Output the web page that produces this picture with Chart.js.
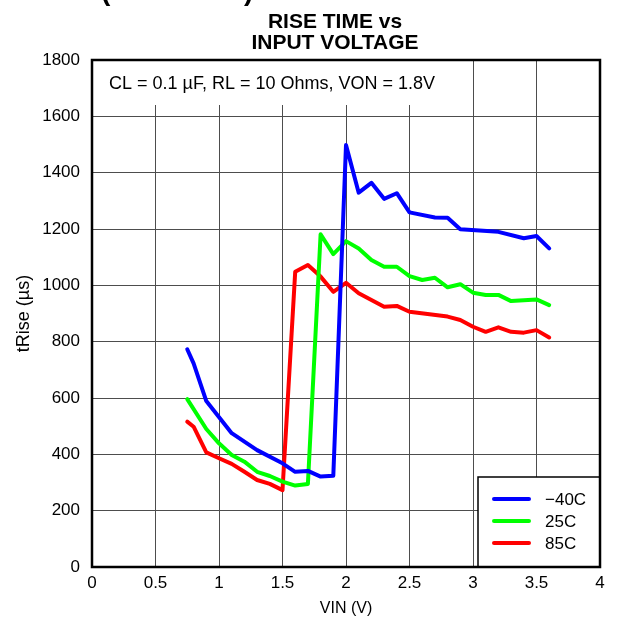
<!DOCTYPE html>
<html>
<head>
<meta charset="utf-8">
<script src="https://cdn.jsdelivr.net/npm/chart.js@4.4.1/dist/chart.umd.min.js"></script>
<style>
  html, body { margin: 0; padding: 0; background: #fff; }
  canvas { display: block; }
</style>
</head>
<body>
<canvas id="chart" width="621" height="622"></canvas>
<script>
// values
const vinBlue = [0.75, 0.8, 0.9, 1.1, 1.3, 1.5, 1.6, 1.7, 1.8, 1.9, 2.0, 2.1, 2.2, 2.3, 2.4, 2.5, 2.7, 2.8, 2.9, 3.2, 3.4, 3.5, 3.6];
const riseBlue = [773, 723, 589, 475, 415, 368, 338, 341, 321, 324, 1498, 1329, 1364, 1307, 1327, 1259, 1241, 1240, 1199, 1190, 1167, 1175, 1131];

const vinGreen = [0.75, 0.9, 1.0, 1.1, 1.2, 1.3, 1.4, 1.5, 1.6, 1.7, 1.8, 1.9, 2.0, 2.1, 2.2, 2.3, 2.4, 2.5, 2.6, 2.7, 2.8, 2.9, 3.0, 3.1, 3.2, 3.3, 3.5, 3.6];
const riseGreen = [596, 490, 439, 398, 374, 338, 323, 303, 289, 295, 1181, 1111, 1157, 1131, 1090, 1066, 1066, 1033, 1019, 1027, 993, 1004, 974, 966, 966, 944, 950, 930];

const vinRed = [0.75, 0.8, 0.9, 1.0, 1.1, 1.2, 1.3, 1.4, 1.5, 1.6, 1.7, 1.8, 1.9, 2.0, 2.1, 2.2, 2.3, 2.4, 2.5, 2.8, 2.9, 3.0, 3.1, 3.2, 3.3, 3.4, 3.5, 3.6];
const riseRed = [516, 498, 407, 386, 366, 338, 309, 295, 273, 1048, 1072, 1031, 977, 1009, 972, 948, 924, 927, 906, 889, 877, 853, 835, 851, 835, 832, 841, 815];

const seriesNames = ["\u221240C", "25C", "85C"];
const seriesColors = ["#0000ff", "#00ff00", "#ff0000"];
const xTicks = [0, 0.5, 1, 1.5, 2, 2.5, 3, 3.5, 4];
const titleLines = ["RISE TIME vs", "INPUT VOLTAGE"];
const noteText = "CL = 0.1 \u00b5F, RL = 10 Ohms, VON = 1.8V";

const toPoints = (xs, ys) => xs.map((x, i) => ({ x: x, y: ys[i] }));
const FONT = "'Liberation Sans', Arial, sans-serif";

// title, note box, legend box and frame
const decorations = {
  id: "decorations",
  beforeDatasetsDraw(chart) {
    const ctx = chart.ctx;
    const a = chart.chartArea;
    ctx.save();
    ctx.fillStyle = "#fff";
    ctx.fillRect(a.left, a.top, 465 - a.left, 105 - a.top);
    ctx.fillStyle = "#000";
    ctx.font = "18px " + FONT;
    ctx.textBaseline = "alphabetic";
    ctx.textAlign = "left";
    ctx.fillText(noteText, 109, 89);
    ctx.restore();
  },
  afterDraw(chart) {
    const ctx = chart.ctx;
    const a = chart.chartArea;
    ctx.save();
    // cut-off heading at the very top
    ctx.fillStyle = "#000";
    ctx.font = "bold 28px " + FONT;
    ctx.textAlign = "left";
    ctx.textBaseline = "alphabetic";
    ctx.fillText("(continued)", 101, 0);

    ctx.font = "bold 21px " + FONT;
    ctx.textAlign = "center";
    ctx.fillText(titleLines[0], 335, 28);
    ctx.fillText(titleLines[1], 335, 49);

    // legend box
    const lx = 478, ly = 477;
    ctx.fillStyle = "#fff";
    ctx.fillRect(lx, ly, a.right - lx, a.bottom - ly);
    ctx.strokeStyle = "#000";
    ctx.lineWidth = 1.5;
    ctx.strokeRect(lx, ly, a.right - lx, a.bottom - ly);
    ctx.font = "17px " + FONT;
    ctx.textAlign = "left";
    ctx.textBaseline = "middle";
    ctx.lineCap = "round";
    seriesNames.forEach((name, i) => {
      const y = 499 + i * 22;
      ctx.strokeStyle = seriesColors[i];
      ctx.lineWidth = 4;
      ctx.beginPath();
      ctx.moveTo(494, y);
      ctx.lineTo(529, y);
      ctx.stroke();
      ctx.fillStyle = "#000";
      ctx.fillText(name, 545, y + 1);
    });

    // plot frame
    ctx.strokeStyle = "#000";
    ctx.lineWidth = 2.5;
    ctx.lineCap = "butt";
    ctx.strokeRect(a.left, a.top, a.right - a.left, a.bottom - a.top);
    ctx.restore();
  }
};

const datasets = [
  toPoints(vinBlue, riseBlue),
  toPoints(vinGreen, riseGreen),
  toPoints(vinRed, riseRed)
].map((pts, i) => ({
  label: seriesNames[i],
  data: pts,
  showLine: true,
  borderColor: seriesColors[i],
  backgroundColor: seriesColors[i],
  borderWidth: 4,
  pointRadius: 0,
  tension: 0,
  borderJoinStyle: "round",
  borderCapStyle: "round"
}));

new Chart(document.getElementById("chart"), {
  type: "scatter",
  data: { datasets: datasets },
  options: {
    responsive: false,
    animation: false,
    events: [],
    layout: { padding: { left: 0, top: 60, right: 21, bottom: 0 } },
    plugins: {
      legend: { display: false },
      title: { display: false },
      tooltip: { enabled: false }
    },
    scales: {
      x: {
        type: "linear",
        min: 0,
        max: 4,
        afterFit: (s) => { s.height = 55; },
        afterBuildTicks: (s) => { s.ticks = xTicks.map(v => ({ value: v })); },
        ticks: {
          color: "#000",
          font: { family: FONT, size: 17 },
          padding: 6,
          callback: (v) => String(v)
        },
        grid: { color: "#4d4d4d", lineWidth: 1, tickLength: 0 },
        border: { display: false },
        title: {
          display: true,
          text: "VIN (V)",
          color: "#000",
          font: { family: FONT, size: 16 },
          padding: { top: 0, bottom: 4 }
        }
      },
      y: {
        min: 0,
        max: 1800,
        afterFit: (s) => { s.width = 92; },
        ticks: {
          stepSize: 200,
          color: "#000",
          font: { family: FONT, size: 17 },
          padding: 12,
          callback: (v) => String(v)
        },
        grid: { color: "#4d4d4d", lineWidth: 1, tickLength: 0 },
        border: { display: false },
        title: {
          display: true,
          text: "tRise (\u00b5s)",
          color: "#000",
          font: { family: FONT, size: 18 },
          padding: { top: 13, bottom: 0 }
        }
      }
    }
  },
  plugins: [decorations]
});
</script>
</body>
</html>
